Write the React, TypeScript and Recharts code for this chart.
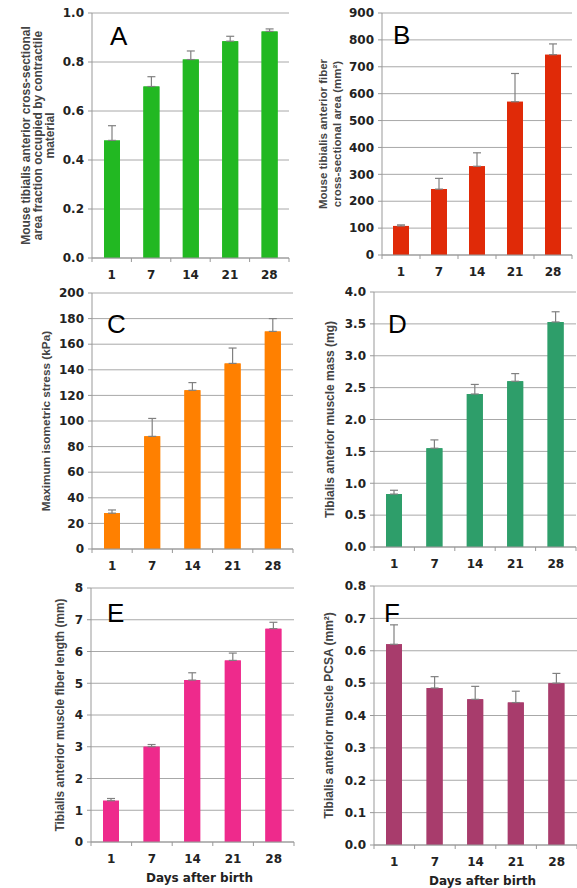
import React from "react";
import { BarChart, Bar, XAxis, YAxis, CartesianGrid, ErrorBar } from "recharts";

const DAYS = ["1", "7", "14", "21", "28"];

const A_VALUES = [0.48, 0.7, 0.81, 0.885, 0.925];
const A_ERRORS = [0.06, 0.04, 0.035, 0.02, 0.01];
const A_TICKS = [0, 0.2, 0.4, 0.6, 0.8, 1.0];

const B_VALUES = [108, 245, 330, 570, 745];
const B_ERRORS = [4, 40, 50, 105, 40];
const B_TICKS = [0, 100, 200, 300, 400, 500, 600, 700, 800, 900];

const C_VALUES = [28, 88, 124, 145, 170];
const C_ERRORS = [2.5, 14, 6, 12, 10];
const C_TICKS = [0, 20, 40, 60, 80, 100, 120, 140, 160, 180, 200];

const D_VALUES = [0.83, 1.55, 2.4, 2.6, 3.53];
const D_ERRORS = [0.06, 0.13, 0.15, 0.12, 0.16];
const D_TICKS = [0, 0.5, 1.0, 1.5, 2.0, 2.5, 3.0, 3.5, 4.0];

const E_VALUES = [1.3, 3.0, 5.1, 5.72, 6.72];
const E_ERRORS = [0.07, 0.07, 0.23, 0.23, 0.2];
const E_TICKS = [0, 1, 2, 3, 4, 5, 6, 7, 8];

const F_VALUES = [0.62, 0.485, 0.45, 0.44, 0.5];
const F_ERRORS = [0.06, 0.035, 0.04, 0.035, 0.03];
const F_TICKS = [0, 0.1, 0.2, 0.3, 0.4, 0.5, 0.6, 0.7, 0.8];

const X_LABEL = "Days after birth";

const TITLE_FONT = "'Liberation Sans', Arial, sans-serif";
const TICK_FONT = "'DejaVu Sans', Verdana, sans-serif";
const GRID = "#a8a8a8";
const AXIS = "#999";

type Box = { l: number; t: number; r: number; b: number };

type Panel = {
  letter: string;
  values: number[];
  errors: number[];
  ticks: number[];
  decimals: number;
  color: string;
  titleLines: string[];
  titleXs: number[];
  titleSize: number;
  plot: Box;
  col: number;
  row: number;
  letterDx: number;
  letterDy: number;
  xLabel: boolean;
};

const COLS = [
  { left: 0, w: 300 },
  { left: 290, w: 287 },
];
const ROWS = [
  { top: 0, h: 295 },
  { top: 280, h: 300 },
  { top: 575, h: 313 },
];

const PANELS: Panel[] = [
  {
    letter: "A",
    values: A_VALUES,
    errors: A_ERRORS,
    ticks: A_TICKS,
    decimals: 1,
    color: "#22b822",
    titleLines: [
      "Mouse tibialis anterior cross-sectional",
      "area fraction occupied by contractile",
      "material",
    ],
    titleXs: [26, 38, 50],
    titleSize: 12,
    plot: { l: 92, t: 13, r: 289, b: 258 },
    col: 0,
    row: 0,
    letterDx: 18,
    letterDy: 32,
    xLabel: false,
  },
  {
    letter: "B",
    values: B_VALUES,
    errors: B_ERRORS,
    ticks: B_TICKS,
    decimals: 0,
    color: "#e02a08",
    titleLines: ["Mouse tibialis anterior fiber", "cross-sectional area (mm²)"],
    titleXs: [33, 47],
    titleSize: 11.5,
    plot: { l: 382, t: 13, r: 572, b: 255 },
    col: 1,
    row: 0,
    letterDx: 11,
    letterDy: 31,
    xLabel: false,
  },
  {
    letter: "C",
    values: C_VALUES,
    errors: C_ERRORS,
    ticks: C_TICKS,
    decimals: 0,
    color: "#ff8000",
    titleLines: ["Maximum isometric stress (kPa)"],
    titleXs: [46],
    titleSize: 11.8,
    plot: { l: 92, t: 293, r: 293, b: 549 },
    col: 0,
    row: 1,
    letterDx: 15,
    letterDy: 40,
    xLabel: false,
  },
  {
    letter: "D",
    values: D_VALUES,
    errors: D_ERRORS,
    ticks: D_TICKS,
    decimals: 1,
    color: "#2e9e6a",
    titleLines: ["Tibialis anterior muscle mass (mg)"],
    titleXs: [40],
    titleSize: 12,
    plot: { l: 374, t: 292, r: 576, b: 547 },
    col: 1,
    row: 1,
    letterDx: 14,
    letterDy: 41,
    xLabel: false,
  },
  {
    letter: "E",
    values: E_VALUES,
    errors: E_ERRORS,
    ticks: E_TICKS,
    decimals: 0,
    color: "#ee2a8c",
    titleLines: ["Tibialis anterior muscle fiber length (mm)"],
    titleXs: [60],
    titleSize: 11.9,
    plot: { l: 91, t: 588, r: 294, b: 842 },
    col: 0,
    row: 2,
    letterDx: 16,
    letterDy: 34,
    xLabel: true,
  },
  {
    letter: "F",
    values: F_VALUES,
    errors: F_ERRORS,
    ticks: F_TICKS,
    decimals: 1,
    color: "#a83c6c",
    titleLines: ["Tibialis anterior muscle PCSA (mm²)"],
    titleXs: [39],
    titleSize: 12,
    plot: { l: 374, t: 586, r: 577, b: 845 },
    col: 1,
    row: 2,
    letterDx: 10,
    letterDy: 36,
    xLabel: true,
  },
];

function PanelChart({ p }: { p: Panel }) {
  const col = COLS[p.col];
  const row = ROWS[p.row];
  const data = DAYS.map((d, i) => ({
    day: d,
    value: p.values[i],
    err: [0, p.errors[i]],
  }));
  const margin = {
    top: p.plot.t - row.top,
    right: col.left + col.w - p.plot.r,
    left: 0,
    bottom: 0,
  };
  const yWidth = p.plot.l - col.left;
  const xHeight = row.top + row.h - p.plot.b;
  const step = (p.plot.r - p.plot.l) / DAYS.length;
  const max = p.ticks[p.ticks.length - 1];

  const renderXTick = (props: any) => {
    const { x, y, payload, index } = props;
    return (
      <g>
        <text
          x={x}
          y={y + 17}
          textAnchor="middle"
          dominantBaseline="central"
          fontFamily={TICK_FONT}
          fontWeight="bold"
          fontSize={12}
          fill="#222"
        >
          {payload.value}
        </text>
        <line x1={x - step / 2} x2={x - step / 2} y1={y} y2={y + 4} stroke={AXIS} />
        {index === DAYS.length - 1 && (
          <line x1={x + step / 2} x2={x + step / 2} y1={y} y2={y + 4} stroke={AXIS} />
        )}
      </g>
    );
  };

  const renderYTitle = (props: any) => {
    const vb = props.viewBox || { x: col.left, y: p.plot.t - row.top, width: yWidth, height: p.plot.b - p.plot.t };
    const cy = vb.y + vb.height / 2;
    return (
      <g>
        {p.titleLines.map((line, i) => {
          const tx = vb.x + p.titleXs[i];
          return (
            <text
              key={i}
              x={tx}
              y={cy}
              transform={`rotate(-90 ${tx} ${cy})`}
              textAnchor="middle"
              dominantBaseline="central"
              fontFamily={TITLE_FONT}
              fontWeight="bold"
              fontSize={p.titleSize}
              fill="#444"
            >
              {line}
            </text>
          );
        })}
        <text
          x={vb.x + vb.width + p.letterDx}
          y={vb.y + p.letterDy}
          fontFamily={TITLE_FONT}
          fontSize={26}
          fill="#000"
        >
          {p.letter}
        </text>
      </g>
    );
  };

  const renderXLabel = (props: any) => {
    if (!p.xLabel) return null;
    const vb = props.viewBox;
    return (
      <text
        x={vb.x + vb.width / 2 + 7}
        y={vb.y + 36}
        textAnchor="middle"
        dominantBaseline="central"
        fontFamily={TICK_FONT}
        fontWeight="bold"
        fontSize={12}
        fill="#222"
      >
        {X_LABEL}
      </text>
    );
  };

  return (
    <div style={{ position: "absolute", left: col.left, top: row.top }}>
      <BarChart width={col.w} height={row.h} data={data} margin={margin}>
        <CartesianGrid vertical={false} stroke={GRID} />
        <XAxis
          dataKey="day"
          interval={0}
          height={xHeight}
          tickLine={false}
          tickSize={0}
          tickMargin={0}
          axisLine={{ stroke: AXIS }}
          tick={renderXTick}
          label={renderXLabel}
        />
        <XAxis xAxisId="cover" dataKey="day" hide />
        <YAxis
          type="number"
          domain={[0, max]}
          ticks={p.ticks}
          interval={0}
          width={yWidth}
          tickSize={4}
          tickMargin={4}
          tickLine={{ stroke: AXIS }}
          axisLine={{ stroke: AXIS }}
          tick={{ fill: "#222", fontFamily: TICK_FONT, fontWeight: "bold", fontSize: 12 }}
          tickFormatter={(v: number) => v.toFixed(p.decimals)}
          label={renderYTitle}
        />
        <Bar dataKey="value" fill={p.color} barSize={16} isAnimationActive={false}>
          <ErrorBar dataKey="err" width={4} stroke="#808080" strokeWidth={1.2} direction="y" isAnimationActive={false} />
        </Bar>
        <Bar dataKey="value" xAxisId="cover" fill={p.color} barSize={16} isAnimationActive={false} />
      </BarChart>
    </div>
  );
}

export default function App() {
  return (
    <div style={{ position: "absolute", left: 0, top: 0, width: 577, height: 888, background: "#fff" }}>
      {PANELS.map((p) => (
        <PanelChart key={p.letter} p={p} />
      ))}
    </div>
  );
}
